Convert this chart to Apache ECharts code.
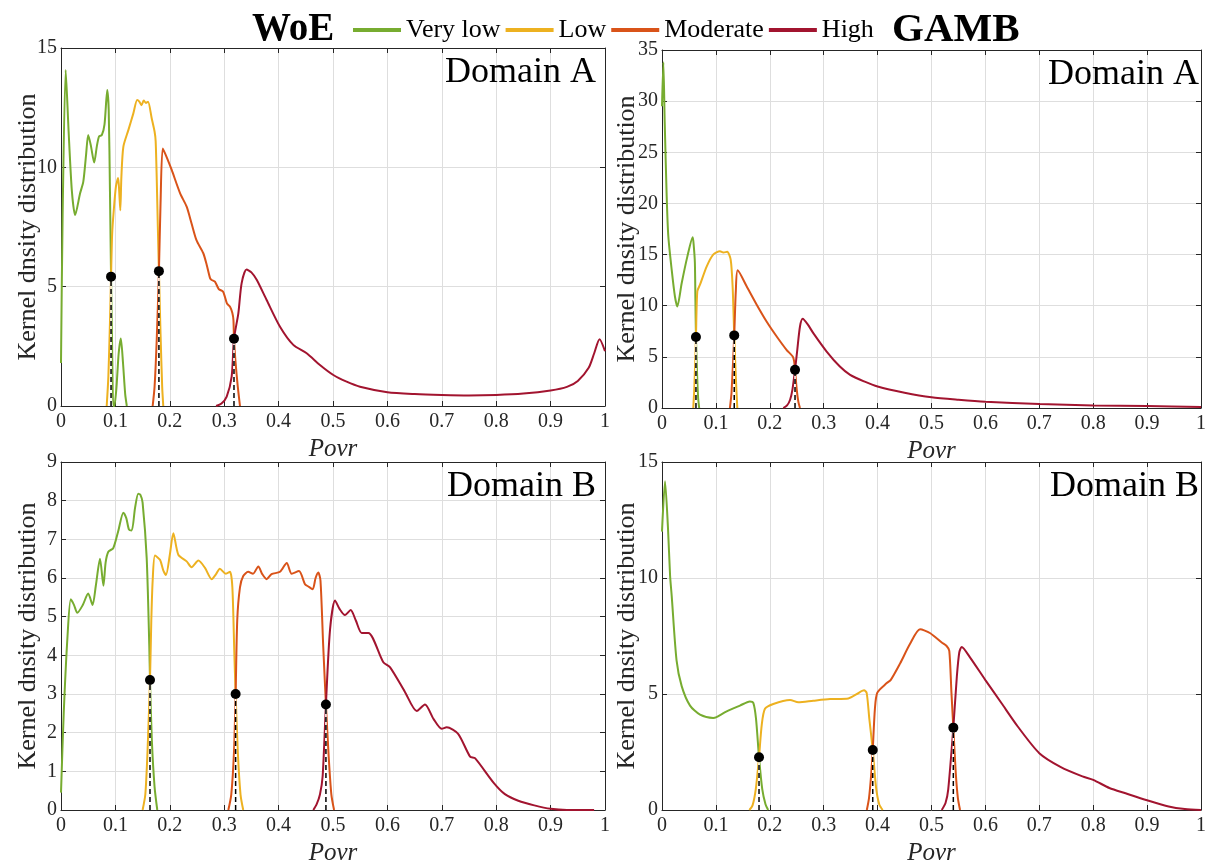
<!DOCTYPE html>
<html>
<head>
<meta charset="utf-8">
<script src="https://cdn.jsdelivr.net/npm/echarts@6/dist/echarts.min.js"></script>
<style>
  html, body { margin: 0; padding: 0; background: #fff; }
  #chart { width: 1217px; height: 867px; }
</style>
</head>
<body>
<div id="chart"></div>
<script>
// Class names and colours
const classNames = ['Very low', 'Low', 'Moderate', 'High'];
const classColors = ['#77AC30', '#EDB120', '#D95319', '#A2142F'];

// Axis settings per panel
const yAxisMax = [15, 35, 9, 15];
const yAxisStep = [5, 5, 1, 5];

// WoE, Domain A
const woeA_veryLow = [[0,1.8],[0.003,8],[0.0086,14.08],[0.014,11.5],[0.02,9],[0.026,8.0],[0.035,8.9],[0.041,9.4],[0.046,10.5],[0.050,11.35],[0.055,10.9],[0.061,10.2],[0.066,10.9],[0.070,11.3],[0.075,11.35],[0.08,11.8],[0.085,13.24],[0.0877,12.4],[0.090,9],[0.092,5.42],[0.094,2.5],[0.096,0],[0.098,0],[0.102,0.8],[0.106,2.2],[0.110,2.83],[0.114,1.8],[0.118,0.5],[0.121,0]];
const woeA_low = [[0.084,0],[0.087,1.2],[0.09,3.5],[0.092,5.42],[0.094,7.2],[0.097,8.2],[0.101,9.2],[0.105,9.55],[0.107,9.0],[0.109,8.2],[0.111,9.6],[0.1146,10.86],[0.1238,11.56],[0.133,12.26],[0.140,12.82],[0.144,12.75],[0.148,12.6],[0.152,12.8],[0.156,12.7],[0.160,12.75],[0.1667,12.06],[0.172,11.5],[0.174,11.1],[0.176,9.5],[0.178,7.5],[0.180,5.65],[0.183,3.0],[0.186,0.8],[0.188,0]];
const woeA_moderate = [[0.1685,0],[0.172,0.8],[0.176,2.8],[0.180,5.65],[0.183,8.5],[0.187,10.79],[0.194,10.44],[0.2035,9.89],[0.219,8.91],[0.231,8.35],[0.240,7.65],[0.249,6.95],[0.2616,6.4],[0.268,5.9],[0.274,5.36],[0.277,5.28],[0.283,5.21],[0.290,4.9],[0.298,4.79],[0.305,4.3],[0.3107,4.16],[0.315,3.9],[0.317,3.6],[0.318,2.82],[0.321,1.8],[0.325,0.8],[0.329,0]];
const woeA_high = [[0.285,0],[0.295,0.1],[0.3046,0.39],[0.3137,1.23],[0.318,2.82],[0.326,3.88],[0.332,5.14],[0.341,5.72],[0.35,5.6],[0.36,5.28],[0.378,4.44],[0.4026,3.32],[0.427,2.56],[0.4516,2.21],[0.476,1.72],[0.5006,1.30],[0.525,1.02],[0.5496,0.81],[0.6,0.58],[0.65,0.5],[0.7,0.46],[0.75,0.44],[0.8,0.46],[0.85,0.52],[0.9,0.65],[0.93,0.8],[0.95,1.05],[0.97,1.6],[0.98,2.2],[0.99,2.8],[1.0,2.3]];
const woeA_cuts = [[0.092,5.42],[0.180,5.65],[0.318,2.82]];

// GAMB, Domain A
const gambA_veryLow = [[0,29.5],[0.0025,33.8],[0.005,28],[0.0087,20.7],[0.0117,16.8],[0.018,13.5],[0.024,10.9],[0.0284,9.93],[0.0365,12.2],[0.047,14.8],[0.057,16.7],[0.059,15.8],[0.061,14.2],[0.062,10.5],[0.063,6.95],[0.065,3.5],[0.067,1.0],[0.069,0]];
const gambA_low = [[0.058,0],[0.06,2],[0.063,6.95],[0.0655,11.4],[0.0705,12.06],[0.083,13.85],[0.095,15.0],[0.1076,15.33],[0.114,15.2],[0.121,15.27],[0.1274,14.5],[0.131,11.9],[0.134,7.1],[0.137,3],[0.1397,0]];
const gambA_moderate = [[0.126,0],[0.129,1.5],[0.134,7.1],[0.137,11.5],[0.1404,13.46],[0.157,11.9],[0.1757,10.1],[0.194,8.46],[0.2128,6.99],[0.231,5.69],[0.2425,5.03],[0.245,4.6],[0.2468,3.73],[0.25,1.8],[0.253,0.6],[0.256,0]];
const gambA_high = [[0.225,0],[0.232,0.25],[0.2375,0.78],[0.242,1.8],[0.2468,3.73],[0.251,5.69],[0.256,7.97],[0.261,8.72],[0.27,8.2],[0.2807,7.32],[0.3055,5.52],[0.330,4.05],[0.349,3.24],[0.375,2.6],[0.4,2.1],[0.45,1.5],[0.5,1.05],[0.55,0.8],[0.6,0.6],[0.7,0.38],[0.8,0.25],[0.9,0.2],[1.0,0.1]];
const gambA_cuts = [[0.063,6.95],[0.134,7.1],[0.2468,3.73]];

// WoE, Domain B
const woeB_veryLow = [[0,0.45],[0.005,2.5],[0.012,4.5],[0.018,5.45],[0.024,5.3],[0.03,5.1],[0.04,5.3],[0.05,5.6],[0.058,5.3],[0.064,5.8],[0.0717,6.5],[0.078,5.8],[0.082,6.4],[0.087,6.68],[0.096,6.77],[0.105,7.2],[0.1146,7.69],[0.12,7.55],[0.125,7.25],[0.13,7.23],[0.136,7.8],[0.142,8.18],[0.146,8.15],[0.150,7.95],[0.1575,6.52],[0.1623,4.24],[0.1636,3.36],[0.167,1.8],[0.172,0.6],[0.177,0]];
const woeB_low = [[0.150,0],[0.155,0.4],[0.159,1.5],[0.1636,3.36],[0.166,4.9],[0.1685,5.93],[0.1728,6.58],[0.182,6.47],[0.188,6.2],[0.193,6.08],[0.2,6.6],[0.2065,7.16],[0.2157,6.6],[0.231,6.43],[0.240,6.28],[0.2525,6.45],[0.2647,6.26],[0.277,5.97],[0.285,6.1],[0.292,6.24],[0.303,6.11],[0.3107,6.16],[0.315,5.76],[0.3186,4.07],[0.321,3.0],[0.325,1.5],[0.33,0.4],[0.335,0]];
const woeB_moderate = [[0.3076,0],[0.313,0.4],[0.318,1.5],[0.321,3.0],[0.324,4.92],[0.329,5.76],[0.335,6.05],[0.344,6.16],[0.353,6.11],[0.3627,6.3],[0.37,6.1],[0.378,5.97],[0.387,6.1],[0.4026,6.16],[0.415,6.39],[0.424,6.11],[0.4375,6.18],[0.4485,5.84],[0.4546,5.78],[0.4626,5.71],[0.468,6.0],[0.473,6.14],[0.477,5.93],[0.482,4.24],[0.487,2.73],[0.492,1.4],[0.497,0.4],[0.502,0]];
const woeB_high = [[0.4638,0],[0.47,0.15],[0.476,0.4],[0.481,0.88],[0.487,2.73],[0.4945,4.66],[0.5037,5.42],[0.512,5.2],[0.522,5.04],[0.5325,5.17],[0.542,4.9],[0.5527,4.58],[0.565,4.58],[0.5925,3.82],[0.605,3.69],[0.632,3.06],[0.654,2.56],[0.669,2.73],[0.685,2.35],[0.6998,2.1],[0.709,2.14],[0.730,1.97],[0.752,1.38],[0.761,1.34],[0.795,0.71],[0.816,0.41],[0.8406,0.24],[0.87,0.12],[0.9,0.03],[0.93,0.0],[0.98,0]];
const woeB_cuts = [[0.1636,3.36],[0.321,3.0],[0.487,2.73]];

// GAMB, Domain B
const gambB_veryLow = [[0,12],[0.0056,14.17],[0.011,12.2],[0.015,10.1],[0.018,9.23],[0.027,6.45],[0.0365,5.34],[0.052,4.5],[0.0705,4.11],[0.095,3.97],[0.1,3.99],[0.12,4.25],[0.1447,4.5],[0.163,4.68],[0.1694,4.62],[0.1744,3.94],[0.180,2.27],[0.186,0.9],[0.192,0.25],[0.197,0]];
const gambB_low = [[0.162,0],[0.168,0.2],[0.174,0.9],[0.180,2.27],[0.185,3.66],[0.191,4.36],[0.2065,4.57],[0.2375,4.74],[0.253,4.64],[0.2807,4.71],[0.3117,4.78],[0.3457,4.81],[0.361,4.99],[0.3748,5.16],[0.3797,5.05],[0.3846,3.94],[0.391,2.59],[0.397,1.0],[0.403,0.25],[0.4094,0]];
const gambB_moderate = [[0.380,0],[0.384,0.5],[0.388,1.5],[0.391,2.59],[0.395,4.36],[0.3995,5.06],[0.417,5.47],[0.4245,5.61],[0.4416,6.31],[0.46,7.15],[0.4787,7.79],[0.497,7.63],[0.519,7.22],[0.528,7.07],[0.533,6.86],[0.537,5.06],[0.5405,3.55],[0.545,1.6],[0.549,0.5],[0.553,0]];
const gambB_high = [[0.519,0],[0.526,0.3],[0.531,0.88],[0.5405,3.55],[0.547,5.75],[0.5516,6.8],[0.556,7.03],[0.5714,6.58],[0.6,5.6],[0.63,4.6],[0.66,3.6],[0.7,2.45],[0.74,1.85],[0.78,1.45],[0.8,1.3],[0.83,0.95],[0.86,0.72],[0.9,0.42],[0.94,0.15],[0.97,0.04],[1.0,0.0]];
const gambB_cuts = [[0.180,2.27],[0.391,2.59],[0.5405,3.55]];

const panelCurves = [
  [woeA_veryLow, woeA_low, woeA_moderate, woeA_high],
  [gambA_veryLow, gambA_low, gambA_moderate, gambA_high],
  [woeB_veryLow, woeB_low, woeB_moderate, woeB_high],
  [gambB_veryLow, gambB_low, gambB_moderate, gambB_high]
];
const panelCuts = [woeA_cuts, gambA_cuts, woeB_cuts, gambB_cuts];
const panelLabels = ['Domain A', 'Domain A', 'Domain B', 'Domain B'];

// Layout
const grids = [
  { left: 61, top: 48, width: 544, height: 358 },
  { left: 662, top: 50, width: 539, height: 358 },
  { left: 61, top: 462, width: 544, height: 356 },
  { left: 662, top: 462, width: 539, height: 359 }
];
const serif = "'Liberation Serif', 'Times New Roman', serif";
const ink = '#262626';
const gridGrey = '#dedede';

const xAxes = [], yAxes = [], series = [], titles = [];

grids.forEach((g, i) => {
  const isLeft = (i % 2 === 0);
  xAxes.push({
    type: 'value', gridIndex: i, min: 0, max: 1, interval: 0.1,
    name: 'Povr', nameLocation: 'middle', nameGap: 31, nameMoveOverlap: false,
    nameTextStyle: { fontFamily: serif, fontSize: 25, fontStyle: 'italic', color: ink },
    axisLine: { show: true, onZero: false, lineStyle: { color: ink, width: 1 } },
    axisTick: { show: true, inside: true, length: 5, lineStyle: { color: ink } },
    axisLabel: { fontFamily: serif, fontSize: 20, color: ink, margin: 6 },
    splitLine: { show: true, lineStyle: { color: gridGrey, width: 1 } }
  });
  xAxes.push({
    type: 'value', gridIndex: i, min: 0, max: 1, interval: 0.1, position: 'top',
    axisLine: { show: true, onZero: false, lineStyle: { color: ink, width: 1 } },
    axisTick: { show: true, inside: true, length: 5, lineStyle: { color: ink } },
    axisLabel: { show: false }, splitLine: { show: false }
  });
  yAxes.push({
    type: 'value', gridIndex: i, min: 0, max: yAxisMax[i], interval: yAxisStep[i],
    name: 'Kernel dnsity distribution', nameLocation: 'middle', nameGap: isLeft ? 20 : 22,
    nameMoveOverlap: false,
    nameTextStyle: { fontFamily: serif, fontSize: 26, color: ink },
    axisLine: { show: true, onZero: false, lineStyle: { color: ink, width: 1 } },
    axisTick: { show: true, inside: true, length: 5, lineStyle: { color: ink } },
    axisLabel: { fontFamily: serif, fontSize: 20, color: ink, margin: 4 },
    splitLine: { show: true, lineStyle: { color: gridGrey, width: 1 } }
  });
  yAxes.push({
    type: 'value', gridIndex: i, min: 0, max: yAxisMax[i], interval: yAxisStep[i], position: 'right',
    axisLine: { show: true, onZero: false, lineStyle: { color: ink, width: 1 } },
    axisTick: { show: true, inside: true, length: 5, lineStyle: { color: ink } },
    axisLabel: { show: false }, splitLine: { show: false }
  });

  panelCurves[i].forEach((curve, k) => {
    series.push({
      name: classNames[k], type: 'line', xAxisIndex: 2 * i, yAxisIndex: 2 * i,
      data: curve, showSymbol: false, symbol: 'none', smooth: 0.25,
      lineStyle: { color: classColors[k], width: 2 }, itemStyle: { color: classColors[k] },
      z: 2 + k, silent: true
    });
  });

  // dashed drop lines from each class boundary point to the axis
  panelCuts[i].forEach((pt) => {
    const drop = [[pt[0], 0], [pt[0], pt[1]]];
    series.push({
      type: 'line', xAxisIndex: 2 * i, yAxisIndex: 2 * i, data: drop,
      symbol: 'none', lineStyle: { color: '#ffffff', width: 1.5 }, z: 8, silent: true
    });
    series.push({
      type: 'line', xAxisIndex: 2 * i, yAxisIndex: 2 * i, data: drop,
      symbol: 'none', lineStyle: { color: '#000000', width: 1.5, type: [5, 3] }, z: 9, silent: true
    });
  });
  series.push({
    type: 'scatter', xAxisIndex: 2 * i, yAxisIndex: 2 * i, data: panelCuts[i],
    symbol: 'circle', symbolSize: 10, itemStyle: { color: '#000000', opacity: 1 }, z: 10, silent: true
  });

  titles.push({
    text: panelLabels[i], right: isLeft ? 616 : 13, top: g.top + 2,
    textStyle: { fontFamily: serif, fontSize: 36, fontWeight: 'normal', color: '#000' }
  });
});

titles.push({ text: 'WoE', left: 247, top: 5,
  textStyle: { fontFamily: serif, fontSize: 39, fontWeight: 'bold', color: '#000' } });
titles.push({ text: 'GAMB', left: 887, top: 5,
  textStyle: { fontFamily: serif, fontSize: 41, fontWeight: 'bold', color: '#000' } });

const chart = echarts.init(document.getElementById('chart'), null, { renderer: 'canvas' });
chart.setOption({
  backgroundColor: '#ffffff',
  animation: false,
  title: titles,
  legend: {
    data: classNames, left: 348, top: 12, icon: 'rect', itemWidth: 48, itemHeight: 4, itemGap: 5,
    textStyle: { fontFamily: serif, fontSize: 26, color: '#000' }, selectedMode: false
  },
  grid: grids,
  xAxis: xAxes,
  yAxis: yAxes,
  series: series
});
</script>
</body>
</html>
